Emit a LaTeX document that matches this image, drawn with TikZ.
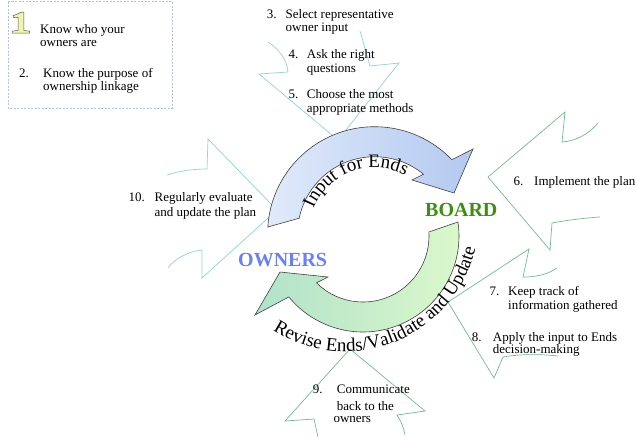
\documentclass[tikz,border=0pt]{standalone}
\usepackage{fontspec}
\setmainfont{Liberation Serif}
\usetikzlibrary{decorations.text}

\definecolor{calloutcyan}{HTML}{8ED2D3}
\definecolor{calloutgreen}{HTML}{72BA8C}
\definecolor{boardgreen}{HTML}{3E8E14}
\definecolor{ownerblue}{HTML}{6B80EE}
\definecolor{bluelight}{HTML}{E0EAFA}
\definecolor{bluedeep}{HTML}{B3C9F1}
\definecolor{greenlight}{HTML}{DCF8CB}
\definecolor{greendeep}{HTML}{B0E2CA}
\definecolor{boxline}{HTML}{AFC3DE}
\definecolor{numfill}{HTML}{EEF4B4}
\definecolor{numline}{HTML}{5A5A4A}

\begin{document}
\begin{tikzpicture}[x=1pt,y=-1pt,
  cyanout/.style={draw=calloutcyan, line width=0.7pt, line join=miter},
  greenout/.style={draw=calloutgreen, line width=0.7pt, line join=miter},
  cyclearrow/.style={draw=black!75, line width=0.6pt, line join=miter},
  item/.style={font=\fontsize{13}{15}\selectfont, inner sep=0pt, anchor=base west},
  bigword/.style={font=\fontsize{20}{24}\selectfont\bfseries, inner sep=0pt, anchor=base west},
]
\useasboundingbox (0,0) rectangle (637,440);

% ---- box with the first two steps ----
\draw[boxline, line width=0.7pt, dash pattern=on 2pt off 1.5pt] (8,1.5) rectangle (172,108);
\filldraw[fill=numfill, draw=numline, line width=0.5pt, line join=miter]
  (13,15.8) -- (21.6,12.2) -- (23.8,12.2) -- (23.8,30.4) -- (29.5,31.2) -- (29.5,33)
  -- (12,33) -- (12,31.2) -- (18,30.4) -- (18,17.2) -- (13.6,17.6) -- cycle;

% ---- burst outlines behind the steps ----
\coordinate (cb) at (374.6,233.7);
\coordinate (cg) at (363,236);

% step 10
\draw[cyanout] (167,175) .. controls (180,170.5) and (195,169) .. (207,169) -- (208,139)
  -- (277,210) -- (202,278) -- (202,250) .. controls (190,251) and (175,258) .. (168,268);
% steps 3 to 5
\draw[cyanout] (268,42) .. controls (280,50) and (287,60) .. (288,72) -- (259,74)
  -- (338,140) -- (399,63) -- (370,66) .. controls (366,52) and (363,41) .. (360,31);
% step 6
\draw[greenout] (598,123) .. controls (589,134) and (576,141) .. (562,142) -- (565,112)
  -- (488,177) -- (550,250) -- (552,223) .. controls (568,220) and (585,218) .. (600,217);
% steps 7 and 8
\draw[greenout] (557,268) .. controls (547,275) and (535,277) .. (523,277) -- (529,249)
  -- (448,302) -- (494,378) -- (503,357) .. controls (520,354) and (540,354) .. (558,356);
% step 9
\draw[greenout] (318,437) -- (314,419) -- (285,421) -- (350,349) -- (425,411)
  -- (397,415) .. controls (401,421) and (404,428) .. (405,435);

% ---- cycle arrows ----
\path[cyclearrow, left color=bluelight, right color=bluedeep]
  ([shift={(cb)}]183.6:107) arc[start angle=183.6, end angle=316.25, radius=107]
  -- (473,149) -- (454,193) -- (412,180)
  -- ([shift={(cb)}]309.4:77) arc[start angle=309.4, end angle=191.6, radius=77] -- cycle;

\path[cyclearrow, left color=greendeep, right color=greenlight]
  ([shift={(cg)}]-8.4:96) arc[start angle=-8.4, end angle=140.6, radius=96]
  -- (255,315) -- (280,272) -- (328,277)
  -- ([shift={(cg)}]134.8:66) arc[start angle=134.8, end angle=-3.5, radius=66] -- cycle;

% ---- arc labels ----
\path[decorate, decoration={text along path, text align=center,
    text={|\fontsize{19}{19}\selectfont|Input for Ends}}]
  ([shift={(cb)}]190:66) arc[start angle=190, end angle=310, radius=66];
\path[decorate, decoration={text along path, text align=center,
    text={|\fontsize{19}{19}\selectfont|Revise Ends/Validate and Update}}]
  ([shift={(345.4,217.8)}]140:133.6) arc[start angle=140, end angle=-4, radius=133.6];

% ---- party labels ----
\node[bigword, text=boardgreen] (board) at (425,216.5) {BOARD};
\node[bigword, text=ownerblue] (owners) at (238,266) {OWNERS};

% ---- steps ----
\node[item] (s1a) at (40,33) {Know who your};
\node[item] (s1b) at (40,46.8) {owners are};
\node[item] (s2n) at (19,77) {2.};
\node[item] (s2a) at (43,77) {Know the purpose of};
\node[item] (s2b) at (43,90.5) {ownership linkage};

\node[item] (s3n) at (266.7,18.3) {3.};
\node[item] (s3a) at (285.5,18.3) {Select representative};
\node[item] (s3b) at (285.5,31.8) {owner input};
\node[item] (s4n) at (288.3,58) {4.};
\node[item] (s4a) at (306.7,58) {Ask the right};
\node[item] (s4b) at (306.7,72.5) {questions};
\node[item] (s5n) at (288.3,98.5) {5.};
\node[item] (s5a) at (306.7,98.5) {Choose the most};
\node[item] (s5b) at (306.7,112.3) {appropriate methods};

\node[item] (s6n) at (513.3,185) {6.};
\node[item] (s6a) at (534,185) {Implement the plan};

\node[item] (s7n) at (489.3,295) {7.};
\node[item] (s7a) at (508,295) {Keep track of};
\node[item] (s7b) at (508,309.5) {information gathered};
\node[item] (s8n) at (471.7,341) {8.};
\node[item] (s8a) at (492.7,341) {Apply the input to Ends};
\node[item] (s8b) at (492.7,353.5) {decision-making};

\node[item] (s9n) at (312.7,393.3) {9.};
\node[item] (s9a) at (336.7,393.3) {Communicate};
\node[item] (s9b) at (336.7,410) {back to the};
\node[item] (s9c) at (333.3,422.7) {owners};

\node[item] (s10n) at (128.3,201.7) {10.};
\node[item] (s10a) at (154.5,201.7) {Regularly evaluate};
\node[item] (s10b) at (154.5,216.5) {and update the plan};
\end{tikzpicture}
\end{document}
